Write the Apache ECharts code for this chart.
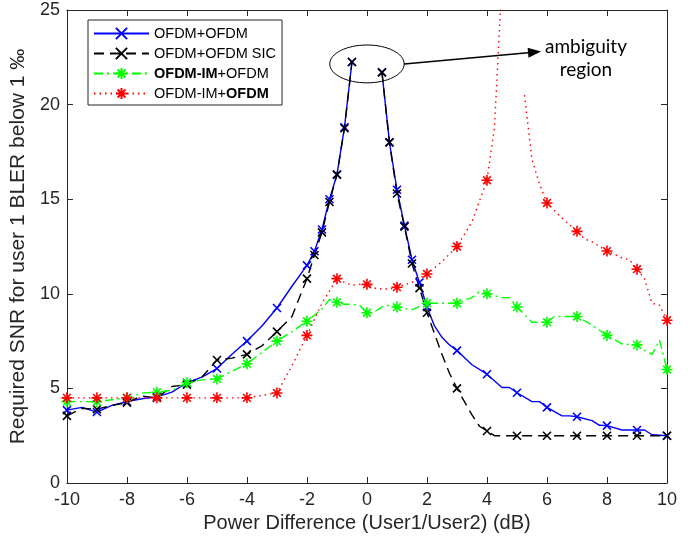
<!DOCTYPE html>
<html lang="en">
<head>
    <meta charset="UTF-8">
    <title>Required SNR vs power difference</title>
    <script src="https://cdn.jsdelivr.net/npm/echarts@6/dist/echarts.min.js"></script>
    <style>
        body { margin: 0; background: #fff; }
    </style>
</head>
<body>
    <div id="main" style="width: 700px;height:546px;"></div>
    <script type="text/javascript">
        // data (x = power difference in dB, y = required SNR)
        const blueX = [-10, -9.5, -9, -8.5, -8, -7.5, -7, -6.5, -6, -5.5, -5, -4.5, -4, -3.5, -3, -2.5, -2, -1.75, -1.5, -1.25, -1, -0.75, -0.5, -0.25, 0, 0.25, 0.5, 0.75, 1, 1.25, 1.5, 1.75, 2, 2.25, 2.5, 2.75, 3, 3.5, 4, 4.5, 4.75, 5, 5.5, 5.75, 6, 6.5, 6.75, 7, 7.5, 7.75, 8, 8.5, 9, 9.25, 9.5, 10];
        const blueY = [3.85, 4.0, 3.75, 4.1, 4.3, 4.45, 4.55, 4.8, 5.3, 5.6, 6.05, 6.8, 7.5, 8.3, 9.25, 10.4, 11.5, 12.25, 13.4, 15.0, 16.3, 18.8, 22.25, '-', '-', '-', 21.7, 18.0, 15.5, 13.6, 11.8, 10.6, 9.3, 8.3, 7.7, 7.3, 7.0, 6.25, 5.75, 5.05, 5.05, 4.77, 4.3, 4.3, 4.0, 3.55, 3.55, 3.5, 3.3, 3.05, 3.03, 2.8, 2.8, 2.8, 2.55, 2.5];

        const blackX = [-10, -9.5, -9, -8.5, -8, -7.5, -7, -6.5, -6, -5.5, -5, -4.5, -4, -3.5, -3, -2.5, -2, -1.75, -1.5, -1.25, -1, -0.75, -0.5, -0.25, 0, 0.25, 0.5, 0.75, 1, 1.25, 1.5, 1.75, 2, 2.25, 2.5, 2.75, 3, 3.5, 3.75, 4, 4.25, 5, 6, 7, 8, 9, 10];
        const blackY = [3.55, 3.95, 3.9, 4.1, 4.25, 4.6, 4.5, 5.1, 5.2, 5.6, 6.5, 6.6, 6.8, 7.25, 8.0, 8.8, 10.8, 12.05, 13.25, 14.85, 16.3, 18.75, 22.25, '-', '-', '-', 21.7, 18.0, 15.3, 13.55, 11.6, 10.3, 9.0, 7.9, 6.8, 5.8, 5.0, 3.6, 3.0, 2.75, 2.5, 2.5, 2.5, 2.5, 2.5, 2.5, 2.5];

        const greenX = [-10, -9.5, -9, -8.5, -8, -7.5, -7, -6.5, -6, -5.5, -5, -4.5, -4, -3.5, -3, -2.5, -2, -1.5, -1.25, -1, -0.75, -0.5, -0.25, 0, 0.25, 0.5, 0.75, 1, 1.5, 2, 2.5, 3, 3.5, 3.75, 4, 4.5, 4.75, 5, 5.5, 5.75, 6, 6.25, 7, 7.5, 8, 8.5, 9, 9.25, 9.5, 9.75, 10];
        const greenY = [4.3, 4.3, 4.3, 4.4, 4.5, 4.75, 4.8, 4.9, 5.3, 5.45, 5.5, 5.9, 6.3, 6.9, 7.5, 8.0, 8.55, 9.2, 9.7, 9.55, 9.45, 9.45, 9.4, 9.0, 9.05, 9.3, 9.4, 9.3, 9.15, 9.5, 9.5, 9.5, 9.8, 10.1, 10.0, 9.8, 9.8, 9.3, 8.5, 8.5, 8.5, 8.8, 8.8, 8.35, 7.8, 7.35, 7.3, 7.0, 6.8, 7.55, 6.0];

        const redX = [-10, -9, -8, -7, -6, -5, -4, -3, -2.5, -2, -1.5, -1, -0.75, -0.5, -0.25, 0, 0.25, 0.5, 0.75, 1, 1.5, 2, 2.5, 3, 3.5, 3.75, 4, 4.25, 4.5, 4.75, 5, 5.25, 5.5, 5.75, 6, 6.5, 7, 7.25, 7.5, 8, 8.5, 8.75, 9, 9.25, 9.5, 9.75, 10];
        const redY = [4.5, 4.5, 4.5, 4.5, 4.5, 4.5, 4.5, 4.76, 6.2, 7.8, 9.5, 10.8, 10.6, 10.45, 10.5, 10.5, 10.3, 10.25, 10.25, 10.35, 10.6, 11.05, 11.7, 12.5, 13.8, 14.9, 16.0, 18.8, 26.6, '-', '-', 20.5, 17.1, 15.8, 14.8, 14.0, 13.3, 12.9, 12.75, 12.26, 11.9, 11.8, 11.3, 10.8, 9.5, 9.4, 8.6];

        // x positions that carry a marker
        const intMarks = [-10, -9, -8, -7, -6, -5, -4, -3, -2, -1, 0, 1, 2, 3, 4, 5, 6, 7, 8, 9, 10];
        const centreMarks = [-1.75, -1.5, -1.25, -0.75, -0.5, 0.5, 0.75, 1.25, 1.5, 1.75];
        const blueMarks = intMarks.concat(centreMarks);
        const blackMarks = intMarks.concat(centreMarks);
        const greenMarks = intMarks;
        const redMarks = intMarks.filter(x => x !== 5);

        const xTicks = { min: -10, max: 10, interval: 2 };
        const yTicks = { min: 0, max: 25, interval: 5 };

        const seriesNames = ['OFDM+OFDM', 'OFDM+OFDM SIC', 'OFDM-IM+OFDM', 'OFDM-IM+OFDM (SIC order)'];
        const legendText = {
            'OFDM+OFDM': 'OFDM+OFDM',
            'OFDM+OFDM SIC': 'OFDM+OFDM SIC',
            'OFDM-IM+OFDM': '{b|OFDM-IM}+OFDM',
            'OFDM-IM+OFDM (SIC order)': 'OFDM-IM+{b|OFDM}'
        };

        const FONT = '"Liberation Sans", Arial, sans-serif';
        const AX = '#262626';
        const crossSym = 'path://M0,0L10,10M10,0L0,10';
        const starSym = 'path://M5,0L5,10M0,5L10,5M1.5,1.5L8.5,8.5M8.5,1.5L1.5,8.5';

        function build(xs, ys, marks) {
            return xs.map((x, i) => {
                const item = { value: [x, ys[i]] };
                if (!marks.includes(x)) item.symbol = 'none';
                return item;
            });
        }

        function lineSeries(name, xs, ys, marks, color, type, sym, size) {
            return {
                name: name,
                type: 'line',
                data: build(xs, ys, marks),
                symbol: sym,
                symbolSize: size,
                symbolKeepAspect: true,
                lineStyle: { color: color, width: 1.4, type: type },
                itemStyle: { color: color, borderColor: color, borderWidth: 1.6 },
                emphasis: { disabled: true },
                clip: true
            };
        }

        let options = {
            animation: false,
            backgroundColor: '#ffffff',
            grid: { left: 62, right: 33, top: 10, bottom: 63 },
            legend: {
                left: 88, top: 20,
                orient: 'vertical',
                backgroundColor: '#ffffff',
                borderColor: AX, borderWidth: 1,
                padding: [6, 6, 4, 5],
                itemWidth: 55, itemHeight: 14, itemGap: 5,
                data: seriesNames,
                formatter: name => legendText[name],
                textStyle: {
                    fontFamily: FONT, fontSize: 14.5, color: '#000', lineHeight: 14,
                    rich: { b: { fontFamily: FONT, fontSize: 14.5, fontWeight: 'bold', color: '#000', lineHeight: 14 } }
                }
            },
            xAxis: [{
                type: 'value', min: xTicks.min, max: xTicks.max, interval: xTicks.interval,
                name: 'Power Difference (User1/User2) (dB)',
                nameLocation: 'middle', nameGap: 30,
                nameTextStyle: { fontFamily: FONT, fontSize: 20, color: AX },
                axisLine: { onZero: false, lineStyle: { color: AX, width: 1 } },
                axisTick: { inside: true, length: 6, lineStyle: { color: AX } },
                axisLabel: { fontFamily: FONT, fontSize: 18, color: AX, margin: 8 },
                splitLine: { show: false }
            }, {
                type: 'value', position: 'top', min: xTicks.min, max: xTicks.max, interval: xTicks.interval,
                axisLine: { onZero: false, lineStyle: { color: AX, width: 1 } },
                axisTick: { inside: true, length: 6, lineStyle: { color: AX } },
                axisLabel: { show: false },
                splitLine: { show: false }
            }],
            yAxis: [{
                type: 'value', min: yTicks.min, max: yTicks.max, interval: yTicks.interval,
                name: 'Required SNR for user 1 BLER below 1 \u2030',
                nameLocation: 'middle', nameGap: 30,
                nameTextStyle: { fontFamily: FONT, fontSize: 21, color: AX },
                axisLine: { show: true, onZero: false, lineStyle: { color: AX, width: 1 } },
                axisTick: { show: true, inside: true, length: 6, lineStyle: { color: AX } },
                axisLabel: { fontFamily: FONT, fontSize: 18, color: AX, margin: 7 },
                splitLine: { show: false }
            }, {
                type: 'value', position: 'right', min: yTicks.min, max: yTicks.max, interval: yTicks.interval,
                axisLine: { show: true, onZero: false, lineStyle: { color: AX, width: 1 } },
                axisTick: { show: true, inside: true, length: 6, lineStyle: { color: AX } },
                axisLabel: { show: false },
                splitLine: { show: false }
            }],
            series: [
                lineSeries(seriesNames[0], blueX, blueY, blueMarks, '#0000ff', 'solid', crossSym, 8),
                lineSeries(seriesNames[1], blackX, blackY, blackMarks, '#000000', [10, 6], crossSym, 8),
                lineSeries(seriesNames[2], greenX, greenY, greenMarks, '#00ff00', [9, 4, 2, 4], starSym, 11),
                lineSeries(seriesNames[3], redX, redY, redMarks, '#ff0000', [1.5, 4], starSym, 11)
            ]
        };

        let myChart = echarts.init(document.getElementById('main'), null, { renderer: 'canvas' });
        myChart.setOption(options);

        // "ambiguity region" annotation, placed in data coordinates
        const ellipseCentre = [0, 22.15];
        const ellipseRadius = [1.24, 1.0];
        const arrowTip = [5.8, 22.8];
        const noteAt = [7.3, 22.45];

        const toPx = p => myChart.convertToPixel({ xAxisIndex: 0, yAxisIndex: 0 }, p);
        const c = toPx(ellipseCentre);
        const edge = toPx([ellipseCentre[0] + ellipseRadius[0], ellipseCentre[1] + ellipseRadius[1]]);
        const rx = edge[0] - c[0], ry = c[1] - edge[1];
        const tip = toPx(arrowTip);
        const start = [c[0] + rx, c[1]];
        const dx = tip[0] - start[0], dy = tip[1] - start[1];
        const len = Math.sqrt(dx * dx + dy * dy);
        const ux = dx / len, uy = dy / len;
        const headLen = 13, headHalf = 5;
        const base = [tip[0] - ux * headLen, tip[1] - uy * headLen];
        const note = toPx(noteAt);

        myChart.setOption({
            graphic: [
                { type: 'ellipse', shape: { cx: c[0], cy: c[1], rx: rx, ry: ry }, style: { fill: 'none', stroke: '#000', lineWidth: 1 }, z: 100 },
                { type: 'line', shape: { x1: start[0], y1: start[1], x2: base[0], y2: base[1] }, style: { stroke: '#000', lineWidth: 1.6 }, z: 100 },
                { type: 'polygon', shape: { points: [tip, [base[0] - uy * headHalf, base[1] + ux * headHalf], [base[0] + uy * headHalf, base[1] - ux * headHalf]] }, style: { fill: '#000' }, z: 100 },
                { type: 'text', x: note[0], y: note[1], style: { text: 'ambiguity\nregion', fontFamily: 'Lato, "Open Sans", sans-serif', fontSize: 19, lineHeight: 23, fill: '#000', align: 'center', verticalAlign: 'middle' }, z: 100 }
            ]
        });
    </script>
</body>
</html>
